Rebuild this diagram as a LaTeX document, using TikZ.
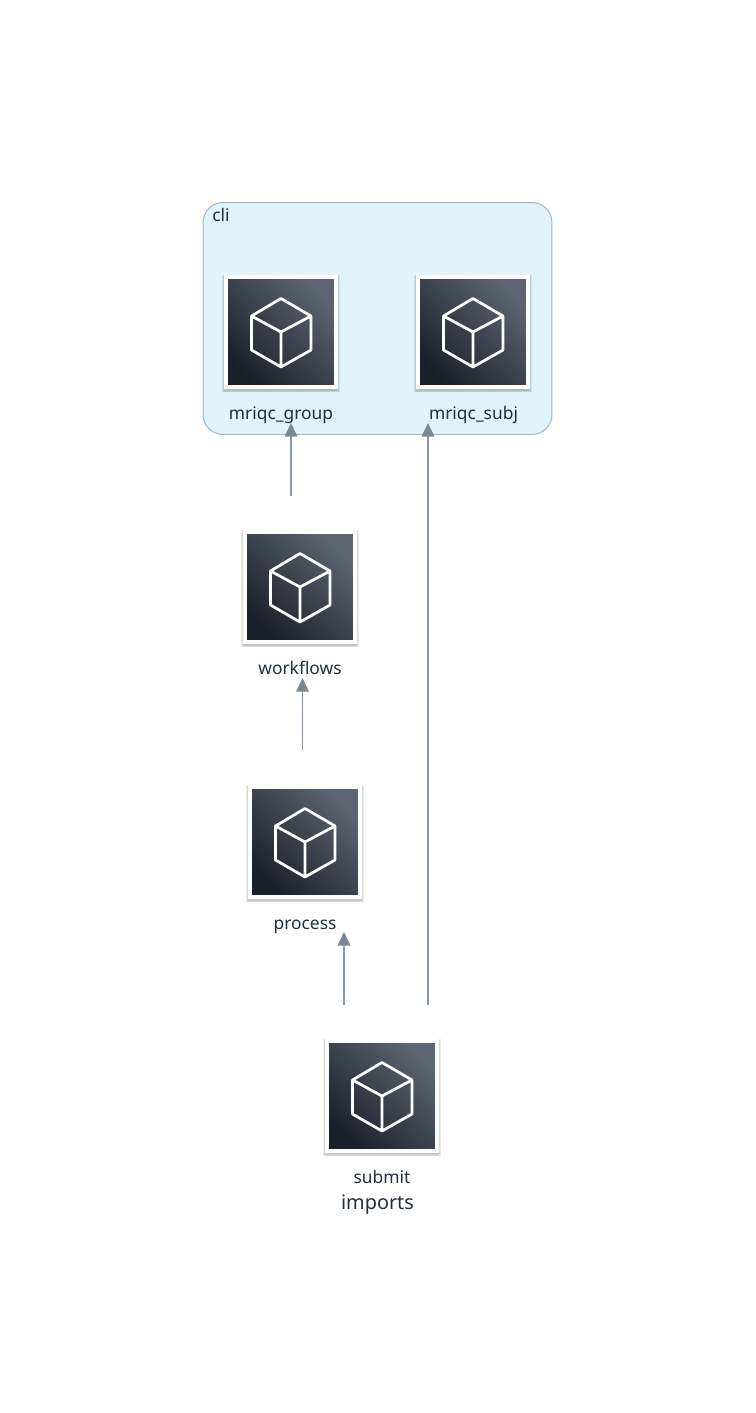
\documentclass[tikz,border=0pt]{standalone}
\usepackage{fontspec}
\setmainfont{Noto Sans}
\usetikzlibrary{shadows,arrows.meta}
\definecolor{inkdark}{HTML}{232F3E}
\definecolor{boxline}{HTML}{A6B4C2}
\definecolor{boxfill}{HTML}{E1F3FC}
\definecolor{edgeline}{HTML}{8A97A5}
\definecolor{edgetip}{HTML}{7B8794}
\definecolor{shadelow}{HTML}{1A202A}
\definecolor{shadehigh}{HTML}{5C6573}
\tikzset{
 softshadow/.style={general shadow={shadow xshift=0cm,shadow yshift=-.03cm,shadow scale=#1,fill=black,opacity=.08}},
 modbox/.style={minimum size=2.2cm,inner sep=0pt,draw=white,line width=.085cm,
  shading=axis,left color=shadelow,right color=shadehigh,shading angle=135,
  softshadow=1.07,softshadow=1.055,softshadow=1.04},
 modlabel/.style={text=inkdark,font=\fontsize{9.9}{12}\selectfont,inner sep=0pt,anchor=base},
 edge/.style={draw=edgeline,line width=.03cm,-{Triangle[length=.27cm,width=.25cm,color=edgetip]}},
 cubeicon/.pic={
  \draw[white,line width=.055cm,line join=round]
   (0,-33.5)--(30,-16)--(30,18)--(0,35)--(-29.5,18)--(-29.5,-16)--cycle
   (-29.5,-16)--(0,0)--(30,-16) (0,0)--(0,35);
 }
}
\begin{document}
\begin{tikzpicture}[x=.02cm,y=-.02cm]
 \useasboundingbox (0,0) rectangle (755,1413);
 % cluster
 \node[draw=boxline,fill=boxfill,line width=.02cm,rounded corners=.4cm,minimum width=6.98cm,
  minimum height=4.64cm,inner sep=0pt] (clibox) at (377.5,318.5) {};
 \node[modlabel] (clilabel) at (221,221.5) {cli};
 % modules
 \node[modbox] (group) at (281,332) {};
 \node[modbox] (subj) at (473,332) {};
 \node[modbox] (workflows) at (300,587) {};
 \node[modbox] (process) at (305,842) {};
 \node[modbox] (submit) at (382,1096) {};
 \pic at (group) {cubeicon};
 \pic at (subj) {cubeicon};
 \pic at (workflows) {cubeicon};
 \pic at (process) {cubeicon};
 \pic at (submit) {cubeicon};
 \node[modlabel] (grouplabel) at (281,419) {mriqc\_group};
 \node[modlabel] (subjlabel) at (473.5,419) {mriqc\_subj};
 \node[modlabel] (workflowslabel) at (300,674) {workflows};
 \node[modlabel] (processlabel) at (305,929) {process};
 \node[modlabel] (submitlabel) at (382,1183) {submit};
 \node[modlabel,font=\fontsize{11.3}{13}\selectfont] (importslabel) at (377.5,1209) {imports};
 % edges
 \coordinate (groupfrom) at (291,496); \coordinate (groupto) at (291,423);
 \coordinate (workfrom) at (302.5,750); \coordinate (workto) at (302.5,678);
 \coordinate (procfrom) at (344,1005); \coordinate (procto) at (344,932);
 \coordinate (subjfrom) at (428,1005); \coordinate (subjto) at (428,423);
 \draw[edge] (groupfrom)--(groupto);
 \draw[edge] (workfrom)--(workto);
 \draw[edge] (procfrom)--(procto);
 \draw[edge] (subjfrom)--(subjto);
\end{tikzpicture}
\end{document}
